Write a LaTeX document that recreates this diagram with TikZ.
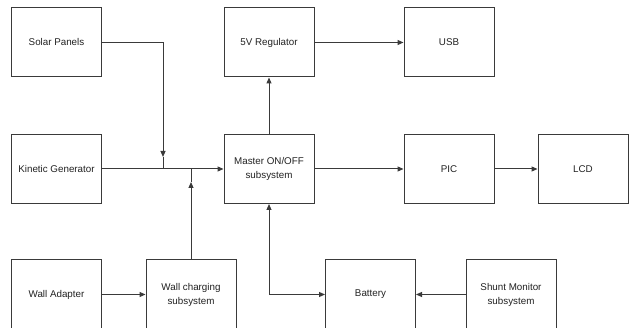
\documentclass[tikz,border=0pt]{standalone}
\usepackage{fontspec}
\setmainfont{Liberation Sans}
\usetikzlibrary{arrows.meta}
\definecolor{ln}{HTML}{3A3A3A}
\definecolor{tx}{HTML}{222222}
\begin{document}
\begin{tikzpicture}[x=1pt,y=-1pt,
  blk/.style={draw=ln,line width=1pt,minimum width=90pt,minimum height=69pt,inner sep=0pt,align=center,font=\fontsize{9.8}{14}\selectfont,text=tx},
  conn/.style={draw=ln,line width=1pt},
  tip/.style={-{Triangle[length=6pt,width=5pt]}}]
\useasboundingbox (0,0) rectangle (630,328);
\fill[white] (0,0) rectangle (630,328);
\begin{scope}
\clip (0,0) rectangle (630,328);
\node[blk] (solar) at (56.5,42.5) {Solar Panels};
\node[blk] (reg) at (269,42.5) {5V Regulator};
\node[blk] (usb) at (449,42.5) {USB};
\node[blk] (kin) at (56.5,169) {Kinetic Generator};
\node[blk] (master) at (269,169) {Master ON/OFF\\subsystem};
\node[blk] (pic) at (449,169) {PIC};
\node[blk] (lcd) at (583,169) {LCD};
\node[blk] (wall) at (56.5,294.5) {Wall Adapter};
\node[blk] (wchg) at (191,294.5) {Wall charging\\subsystem};
\node[blk] (bat) at (370.5,294.5) {Battery};
\node[blk] (shunt) at (511,294.5) {Shunt Monitor\\subsystem};
\end{scope}
\coordinate (j1) at (163,169);
\coordinate (a1) at (163,157);
\coordinate (j2) at (191,169);
\coordinate (a2) at (191,182);
\draw[conn,tip] (solar.east) -| (a1);
\draw[conn] (a1) -- (j1);
\draw[conn,tip] (kin.east) -- (master.west);
\draw[conn,tip] (wchg.north) -- (a2);
\draw[conn] (a2) -- (j2);
\draw[conn,tip] (master.north) -- (reg.south);
\draw[conn,tip] (reg.east) -- (usb.west);
\draw[conn,tip] (master.east) -- (pic.west);
\draw[conn,tip] (pic.east) -- (lcd.west);
\draw[conn,tip] (wall.east) -- (wchg.west);
\draw[conn,tip] (shunt.west) -- (bat.east);
\draw[conn,{Triangle[length=6pt,width=5pt]}-{Triangle[length=6pt,width=5pt]}] (master.south) |- (bat.west);
\end{tikzpicture}
\end{document}
